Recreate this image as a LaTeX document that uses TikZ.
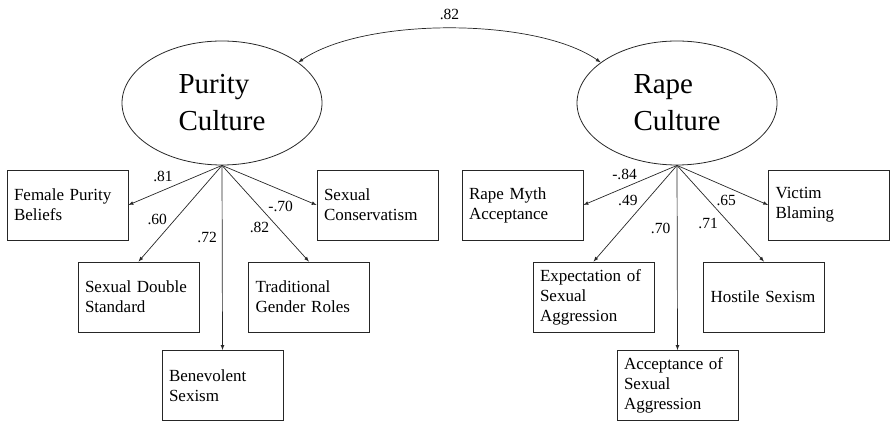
\documentclass[tikz,border=0pt]{standalone}
\usepackage{fontspec}
\setmainfont{Liberation Serif}
\usetikzlibrary{arrows,shapes,calc}

\begin{document}
\begin{tikzpicture}[x=1pt, y=1pt, node distance=455pt]
\tikzstyle{latent}=[ellipse, draw=black!85, line width=0.8pt, minimum width=200pt, minimum height=124pt, align=left, font=\fontsize{29}{37}\selectfont]
\tikzstyle{rect}=[rectangle, draw=black!85, line width=0.8pt, minimum height=70pt, text width=107pt, inner xsep=7pt, align=left, font=\fontsize{17}{20}\selectfont]
\tikzstyle{connect}=[-latex, line width=0.7pt, black!85]
\tikzstyle{corr}=[latex-latex, line width=0.7pt, black!85]
\tikzstyle{lbl}=[font=\fontsize{15.5}{18}\selectfont, inner sep=2pt, black]

\useasboundingbox (0,0) rectangle (890,422);

  \node[latent] (purity) at (222,319)       {Purity\\Culture};
  \node[latent] (rape)   [right of =purity] {Rape\\Culture};

  \node[rect] (fpb) at (67.5,217)  {Female Purity\\Beliefs};
  \node[rect] (sds) at (138.5,125) {Sexual Double\\Standard};
  \node[rect] (bs)  at (222.5,36.5) {Benevolent\\Sexism};
  \node[rect] (tgr) at (309,125)   {Traditional\\Gender Roles};
  \node[rect] (sc)  at (377.5,217) {Sexual\\Conservatism};

  \node[rect] (rma)  [right of =fpb]              {Rape Myth\\Acceptance};
  \node[rect] (eosa) [right of =sds]              {Expectation of\\Sexual\\Aggression};
  \node[rect] (aosa) [right of =bs]               {Acceptance of\\Sexual\\Aggression};
  \node[rect] (hs)   [right of =tgr]              {Hostile Sexism};
  \node[rect] (vb)   [right of =sc, xshift=-3.5]  {Victim\\Blaming};

  \path (purity.28) edge [corr, out=35, in=145, looseness=0.67] node[lbl, above=6pt] {.82} (rape.152);

  \path (purity.south) edge [connect] node[lbl, pos=.63, above=6pt] {.81} (fpb.east);
  \path (purity.south) edge [connect] node[lbl, pos=.56, left=6pt] {.60} (sds.north);
  \path (purity.south) edge [connect] node[lbl, pos=.39, left=3pt] {.72} (bs.north);
  \path (purity.south) edge [connect] node[lbl, pos=.65, left=7pt] {.82} (tgr.north);
  \path (purity.south) edge [connect] node[lbl, pos=.62, below=9pt] {-.70} (sc.west);

  \path (rape.south) edge [connect] node[lbl, pos=.56, above=6pt] {-.84} (rma.east);
  \path (rape.south) edge [connect] node[lbl, pos=.36, left=7pt] {.49} (eosa.north);
  \path (rape.south) edge [connect] node[lbl, pos=.34, left=4.5pt] {.70} (aosa.north);
  \path (rape.south) edge [connect] node[lbl, pos=.60, left=9pt] {.71} (hs.north);
  \path (rape.south) edge [connect] node[lbl, pos=.54, below=6pt] {.65} (vb.west);

\end{tikzpicture}
\end{document}
